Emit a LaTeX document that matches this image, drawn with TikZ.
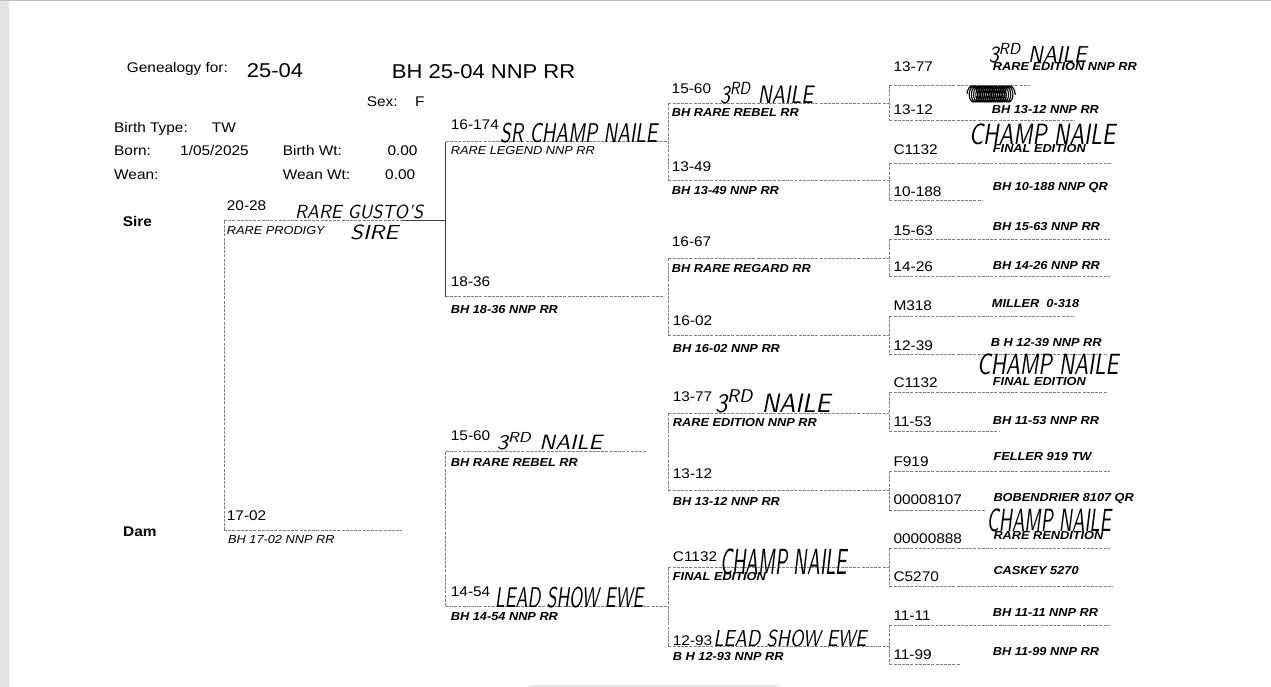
\documentclass[tikz,border=0pt]{standalone}
\usepackage{fontspec}
\setmainfont{Liberation Sans}[FakeStretch=1.1]
\usetikzlibrary{decorations.pathmorphing}
\newcommand{\hw}[3]{\resizebox*{#1pt}{#2pt}{#3}}
\tikzset{
  num/.style={anchor=west, inner sep=0pt, font=\fontsize{14}{16}\selectfont, text height=10pt, text depth=0pt},
  info/.style={num},
  big/.style={anchor=west, inner sep=0pt, font=\fontsize{20}{22}\selectfont, text height=14.3pt, text depth=0pt},
  lbl/.style={anchor=west, inner sep=0pt, font=\fontsize{14}{16}\selectfont\bfseries, text height=10pt, text depth=0pt},
  nm/.style={anchor=west, inner sep=0pt, font=\fontsize{11.6}{13}\selectfont\bfseries\itshape, text height=8.3pt, text depth=0pt},
  nmr/.style={nm, font=\fontsize{11.6}{13}\selectfont\itshape},
  hand/.style={anchor=west, inner sep=0pt, font=\sffamily\slshape},
  ln/.style={draw=black!50, line width=0.6pt, dash pattern=on 3pt off 1.2pt},
  lns/.style={draw=black!75, line width=0.7pt},
  scribble/.style={draw=black, line width=1.1pt, decorate, decoration={coil, amplitude=8pt, segment length=2.2pt, aspect=0.6}}
}
\begin{document}
\begin{tikzpicture}[x=1pt, y=-1pt]
\useasboundingbox (0,0) rectangle (1271,687);
\fill[white] (0,0) rectangle (1271,687);
\fill[black!11] (0,0) rectangle (9,687);
\fill[black!25] (0,0) rectangle (1271,1.5);
\fill[black!8, rounded corners=1.5pt] (528,684.5) rectangle (780,687);

% ---------- header ----------
\node[info] (gen) at (126.7,67.5) {Genealogy for:};
\node[big] (gid) at (246.7,70.8) {25-04};
\node[big] (title) at (391.7,71.7) {BH 25-04 NNP RR};
\node[info] (sexl) at (366.7,101.7) {Sex:};
\node[info] (sexv) at (415,101.7) {F};
\node[info] (btl) at (114,127.5) {Birth Type:};
\node[info] (btv) at (211.7,127.5) {TW};
\node[info] (bornl) at (114,150.8) {Born:};
\node[info] (bornv) at (180,150.8) {1/05/2025};
\node[info] (bwl) at (282.7,150.8) {Birth Wt:};
\node[info] (bwv) at (387.3,150.8) {0.00};
\node[info] (weanl) at (114,174.2) {Wean:};
\node[info] (wwl) at (282.7,174.2) {Wean Wt:};
\node[info] (wwv) at (385,174.2) {0.00};
\node[lbl] (sire) at (122.7,221.7) {Sire};
\node[lbl] (dam) at (123,531.7) {Dam};

% ---------- lines: column 1 ----------
\coordinate (s1) at (224,220.7);
\coordinate (s1m) at (401.7,220.7);
\coordinate (s1e) at (445.7,220.7);
\coordinate (d1) at (224,530);
\coordinate (d1e) at (401.7,530);
\draw[ln] (s1) -- (s1m);
\draw[lns] (s1m) -- (s1e);
\draw[ln] (s1) -- (d1);
\draw[ln] (d1) -- (d1e);

% ---------- lines: column 2 ----------
\foreach \y/\e [count=\i] in {141.7/668.3, 296.7/663, 451.7/646.7, 606/668.3} {
  \coordinate (L2s\i) at (445.7,\y);
  \coordinate (L2e\i) at (\e,\y);
  \draw[ln] (L2s\i) -- (L2e\i);
}
\draw[lns] (L2s1) -- (L2s2);
\draw[ln] (L2s3) -- (L2s4);

% ---------- lines: column 3 ----------
\foreach \y [count=\i] in {103.3, 180, 258.3, 335, 413.3, 490.7, 567.7, 646.7} {
  \coordinate (L3s\i) at (668.3,\y);
  \coordinate (L3e\i) at (889.3,\y);
  \draw[ln] (L3s\i) -- (L3e\i);
}
\foreach \i/\j in {1/2, 3/4, 5/6, 7/8} { \draw[ln] (L3s\i) -- (L3s\j); }

% ---------- lines: column 4 ----------
\foreach \y/\e [count=\i] in {85/1030, 120/1075, 163.3/1111, 200/983, 239/1110, 276.7/1110, 316/1075, 354/1107,
                               392.7/1107, 431.7/1000, 471/1110, 510/985, 548.3/1110, 586/1112, 625/1110, 664/960} {
  \coordinate (L4s\i) at (889.3,\y);
  \coordinate (L4e\i) at (\e,\y);
  \draw[ln] (L4s\i) -- (L4e\i);
}
\foreach \i/\j in {1/2, 3/4, 5/6, 7/8, 9/10, 11/12, 13/14, 15/16} { \draw[ln] (L4s\i) -- (L4s\j); }

% ---------- column 1 ----------
\node[num] (n2028) at (226.7,205.7) {20-28};
\node[nmr] (a2028) at (226.7,230) {RARE PRODIGY};
\node[hand] (h2028a) at (295,212) {\hw{128}{14}{RARE GUSTO'S}};
\node[hand] (h2028b) at (350,232.5) {\hw{48}{15}{SIRE}};
\node[num] (n1702) at (226.7,515) {17-02};
\node[nmr] (a1702) at (228,539.3) {BH 17-02 NNP RR};

% ---------- column 2 ----------
\node[num] (n16174) at (450.7,125) {16-174};
\node[nmr] (a16174) at (450.7,150.7) {RARE LEGEND NNP RR};
\node[hand] (h16174) at (500,133) {\hw{157}{20}{SR CHAMP NAILE}};
\node[num] (n1836) at (450.7,281.7) {18-36};
\node[nm] (a1836) at (450.7,309.3) {BH 18-36 NNP RR};
\node[num] (n1560b) at (450.7,435) {15-60};
\node[nm] (a1560b) at (450.7,462.3) {BH RARE REBEL RR};
\node[hand] (h1560b) at (496.7,441) {\hw{105}{18}{3\textsuperscript{RD} NAILE}};
\node[num] (n1454) at (450.7,591.7) {14-54};
\node[nm] (a1454) at (450.7,616.7) {BH 14-54 NNP RR};
\node[hand] (h1454) at (495,597.5) {\hw{148}{21}{LEAD SHOW EWE}};

% ---------- column 3 ----------
\node[num] (n1560a) at (671.5,88.3) {15-60};
\node[nm] (a1560a) at (671.7,112.7) {BH RARE REBEL RR};
\node[hand] (h1560a) at (720,93) {\hw{93}{22}{3\textsuperscript{RD} NAILE}};
\node[num] (n1349) at (671.7,166.7) {13-49};
\node[nm] (a1349) at (671.7,190) {BH 13-49 NNP RR};
\node[num] (n1667) at (671.7,241.7) {16-67};
\node[nm] (a1667) at (671.7,268.3) {BH RARE REGARD RR};
\node[num] (n1602) at (672.7,320.7) {16-02};
\node[nm] (a1602) at (672.7,348.3) {BH 16-02 NNP RR};
\node[num] (n1377a) at (672.7,396.7) {13-77};
\node[nm] (a1377a) at (672.7,422.3) {RARE EDITION NNP RR};
\node[hand] (h1377a) at (715,401.5) {\hw{115}{23}{3\textsuperscript{RD} NAILE}};
\node[num] (n1312a) at (672.7,473.3) {13-12};
\node[nm] (a1312a) at (672.7,501.7) {BH 13-12 NNP RR};
\node[num] (nc1132a) at (672.7,556.7) {C1132};
\node[nm] (ac1132a) at (672.7,576) {FINAL EDITION};
\node[hand] (hc1132a) at (720,562) {\hw{127}{26}{CHAMP NAILE}};
\node[num] (n1293) at (672.7,640) {12-93};
\node[nm] (a1293) at (672.7,656.7) {B H 12-93 NNP RR};
\node[hand] (h1293) at (713.3,638) {\hw{153}{17}{LEAD SHOW EWE}};

% ---------- column 4 ----------
\node[num] (m1) at (893.3,66.7) {13-77};
\node[nm] (b1) at (992.7,66) {RARE EDITION NNP RR};
\node[hand] (g1) at (988.3,53.3) {\hw{98}{20}{3\textsuperscript{RD} NAILE}};
\node[num] (m2) at (893.3,110) {13-12};
\node[nm] (b2) at (991.7,109) {BH 13-12 NNP RR};
\coordinate (scrA) at (967,94);
\coordinate (scrB) at (1016,94);
\draw[scribble] (scrA) -- (scrB);
\node[num] (m3) at (893.3,149.3) {C1132};
\node[nm] (b3) at (992.7,148.3) {FINAL EDITION};
\node[hand] (g3) at (969,134) {\hw{146}{21}{CHAMP NAILE}};
\node[num] (m4) at (893.3,191.7) {10-188};
\node[nm] (b4) at (992.7,186.7) {BH 10-188 NNP QR};
\node[num] (m5) at (893.3,230) {15-63};
\node[nm] (b5) at (992.7,226.7) {BH 15-63 NNP RR};
\node[num] (m6) at (893.3,266.7) {14-26};
\node[nm] (b6) at (992.7,265) {BH 14-26 NNP RR};
\node[num] (m7) at (893.3,305) {M318};
\node[nm] (b7) at (991.7,303.3) {MILLER\ \ 0-318};
\node[num] (m8) at (893.3,345) {12-39};
\node[nm] (b8) at (990.7,342.7) {B H 12-39 NNP RR};
\node[num] (m9) at (893.3,382.7) {C1132};
\node[nm] (b9) at (992.7,381) {FINAL EDITION};
\node[hand] (g9) at (977,364) {\hw{141}{21}{CHAMP NAILE}};
\node[num] (m10) at (893.3,421.7) {11-53};
\node[nm] (b10) at (992.7,420) {BH 11-53 NNP RR};
\node[num] (m11) at (893.3,461) {F919};
\node[nm] (b11) at (993.3,456.7) {FELLER 919 TW};
\node[num] (m12) at (893.3,499.3) {00008107};
\node[nm] (b12) at (993.3,497.3) {BOBENDRIER 8107 QR};
\node[num] (m13) at (893.3,538.3) {00000888};
\node[nm] (b13) at (993.3,535) {RARE RENDITION};
\node[hand] (g13) at (986.7,520) {\hw{124}{23}{CHAMP NAILE}};
\node[num] (m14) at (893.3,576.7) {C5270};
\node[nm] (b14) at (993.3,570) {CASKEY 5270};
\node[num] (m15) at (893.3,615) {11-11};
\node[nm] (b15) at (992.7,612.7) {BH 11-11 NNP RR};
\node[num] (m16) at (893.3,654) {11-99};
\node[nm] (b16) at (992.7,651.7) {BH 11-99 NNP RR};
\end{tikzpicture}
\end{document}
